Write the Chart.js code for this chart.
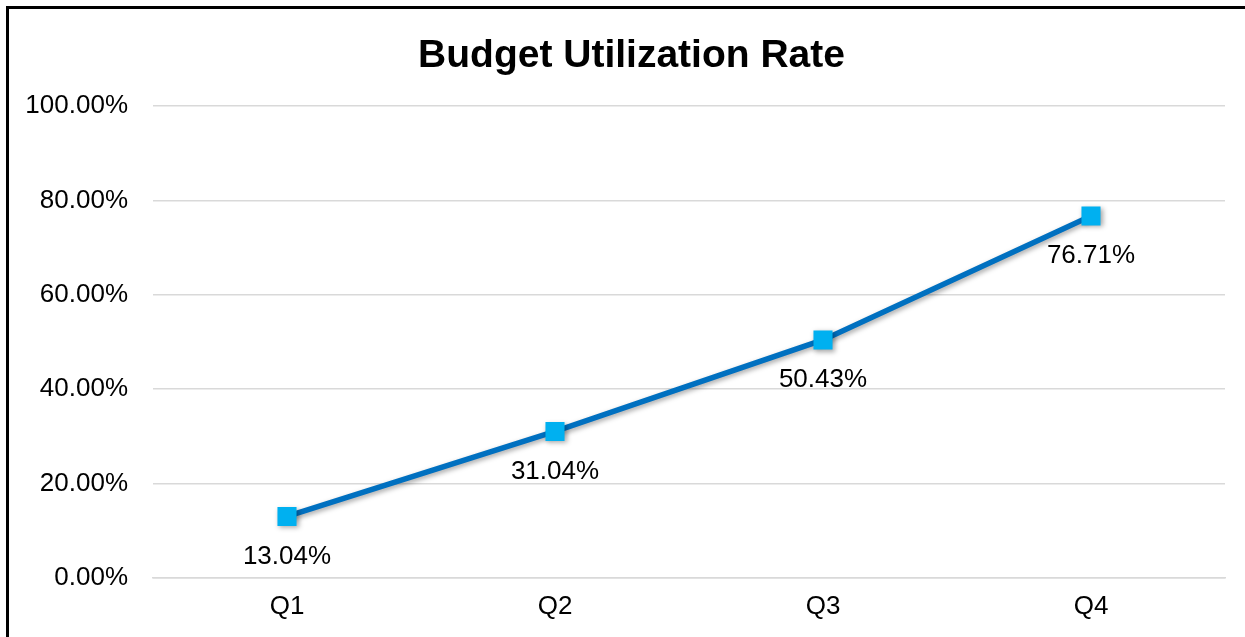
<!DOCTYPE html>
<html>
<head>
<meta charset="utf-8">
<script src="https://cdn.jsdelivr.net/npm/chart.js@4/dist/chart.umd.min.js"></script>
<style>
html,body{margin:0;padding:0;background:#fff;overflow:hidden;}
#wrap{position:absolute;left:0;top:0;width:1245px;height:637px;}
#frame{position:absolute;left:6px;top:6px;width:1400px;height:800px;border:3px solid #000;pointer-events:none;}
</style>
</head>
<body>
<div id="wrap"><canvas id="c" width="1245" height="637"></canvas></div>
<div id="frame"></div>
<script>
const categories = ["Q1", "Q2", "Q3", "Q4"];
const utilization = [13.04, 31.04, 50.43, 76.71];
const yTicks = [0, 20, 40, 60, 80, 100];
const chartTitle = "Budget Utilization Rate";

const FONT = "'Liberation Sans', Arial, sans-serif";

const shadowPlugin = {
  id: 'shadow',
  beforeDatasetDraw(chart) {
    const ctx = chart.ctx;
    ctx.save();
    ctx.shadowColor = 'rgba(0,0,0,0.35)';
    ctx.shadowBlur = 5;
    ctx.shadowOffsetX = 2;
    ctx.shadowOffsetY = 2;
  },
  afterDatasetDraw(chart) {
    chart.ctx.restore();
  }
};

const labelPlugin = {
  id: 'valueLabels',
  afterDatasetsDraw(chart) {
    const ctx = chart.ctx;
    const meta = chart.getDatasetMeta(0);
    ctx.save();
    ctx.font = "26px " + FONT;
    ctx.fillStyle = '#000';
    ctx.textAlign = 'center';
    ctx.textBaseline = 'middle';
    meta.data.forEach((pt, i) => {
      ctx.fillText(utilization[i].toFixed(2) + '%', pt.x, pt.y + 40);
    });
    ctx.restore();
  }
};

const titlePlugin = {
  id: 'offsetTitle',
  afterDraw(chart) {
    const ctx = chart.ctx;
    ctx.save();
    ctx.font = "bold 39px " + FONT;
    ctx.fillStyle = '#000';
    ctx.textAlign = 'center';
    ctx.textBaseline = 'middle';
    ctx.fillText(chartTitle, 631.5, 56);
    ctx.restore();
  }
};

new Chart(document.getElementById('c'), {
  type: 'line',
  data: {
    labels: categories,
    datasets: [{
      data: utilization,
      borderColor: '#0070C0',
      borderWidth: 5.5,
      backgroundColor: '#00B0F0',
      pointBackgroundColor: '#00B0F0',
      pointBorderColor: '#00B0F0',
      pointBorderWidth: 0,
      pointStyle: 'rect',
      pointRadius: 13.5,
      tension: 0,
      fill: false
    }]
  },
  plugins: [shadowPlugin, labelPlugin, titlePlugin],
  options: {
    responsive: false,
    animation: false,
    devicePixelRatio: 1,
    layout: { padding: { left: 0, right: 20, top: 106, bottom: 0 } },
    plugins: {
      legend: { display: false },
      tooltip: { enabled: false },
      title: { display: false }
    },
    scales: {
      x: {
        offset: true,
        grid: { display: false, drawTicks: false },
        border: { display: true, color: '#d9d9d9', width: 1.5 },
        ticks: { color: '#000', font: { family: FONT, size: 26 }, padding: 13 },
        afterFit(s) { s.height = 59; }
      },
      y: {
        min: 0,
        max: 100,
        afterBuildTicks(s) { s.ticks = yTicks.map(v => ({ value: v })); },
        grid: { color: '#d9d9d9', lineWidth: 1.5, drawTicks: false },
        border: { display: false },
        ticks: {
          color: '#000',
          font: { family: FONT, size: 26 },
          padding: 25,
          callback: v => Number(v).toFixed(2) + '%'
        },
        afterFit(s) { s.width = 153; }
      }
    }
  }
});
</script>
</body>
</html>
